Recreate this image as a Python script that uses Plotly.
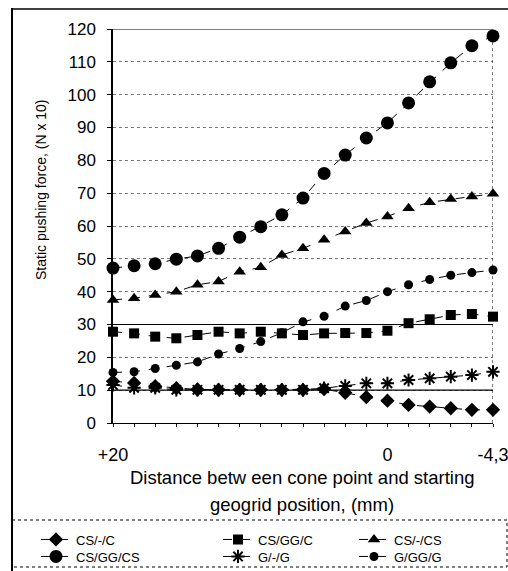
import plotly.graph_objects as go

# x positions (index along the category axis) and tick labels
x_index = list(range(19))
tick_vals = [0, 13, 18]
tick_text = ["+20", "0", "-4,3"]

cs_c = [12.7, 12.2, 11.2, 10.6, 10.2, 10.1, 10.1, 10.1, 10.1, 10.1, 10.3, 9.2, 7.9, 6.8, 5.5, 5.0, 4.5, 4.0, 4.0]
cs_gg_c = [27.8, 27.3, 26.3, 25.8, 26.8, 27.8, 27.3, 27.8, 27.3, 26.8, 27.3, 27.4, 27.4, 28.1, 30.4, 31.6, 32.9, 33.2, 32.4]
cs_cs = [37.5, 38.0, 39.0, 40.0, 42.1, 43.1, 46.1, 47.4, 51.2, 53.2, 55.8, 58.3, 60.9, 62.9, 65.4, 67.2, 68.2, 69.0, 69.8]
cs_gg_cs = [47.2, 47.9, 48.5, 49.9, 50.9, 53.2, 56.6, 59.8, 63.4, 68.5, 76.0, 81.6, 86.8, 91.4, 97.5, 103.9, 109.7, 114.9, 117.9]
g_g = [11.6, 10.7, 10.7, 10.1, 10.1, 10.1, 10.1, 10.1, 10.1, 10.1, 10.6, 11.3, 12.1, 12.1, 13.1, 13.6, 14.1, 14.6, 15.6]
g_gg_g = [15.4, 15.6, 16.6, 17.6, 18.6, 21.0, 22.7, 24.8, 27.5, 30.8, 32.5, 35.6, 37.3, 40.0, 42.1, 43.7, 45.0, 45.8, 46.6]

series_names = ["CS/-/C", "CS/GG/C", "CS/-/CS", "CS/GG/CS", "G/-/G", "G/GG/G"]
series_values = [cs_c, cs_gg_c, cs_cs, cs_gg_cs, g_g, g_gg_g]
symbols = ["diamond", "square", "triangle-up", "circle", "asterisk-open", "circle"]
sizes = [11, 10, 11, 13, 11, 9]

L, R, T, B = 113, 493, 29, 423
W, H = R - L, B - T


def px(X):
    return (X - L) / W


def py(Y):
    return (B - Y) / H


fig = go.Figure()
legend_cfg = {}
col_x = [36, 218, 354]
row_y = [539.5, 556.5]
for i, (name, vals, sym, size) in enumerate(zip(series_names, series_values, symbols, sizes)):
    key = "legend" if i == 0 else f"legend{i + 1}"
    fig.add_trace(go.Scatter(
        x=x_index, y=vals, name=name, mode="lines+markers",
        line=dict(color="black", width=1, dash="dash"),
        marker=dict(symbol=sym, size=size, color="black",
                    line=dict(color="black", width=2 if "asterisk" in sym else 0)),
        cliponaxis=False, legend=key,
    ))
    legend_cfg[key] = dict(
        x=px(col_x[i % 3]), y=py(row_y[i // 3]), xanchor="left", yanchor="middle",
        font=dict(size=13, color="black"), bgcolor="rgba(0,0,0,0)",
        itemwidth=30, borderwidth=0,
    )

shapes = []
for v in [10, 30, 120]:
    shapes.append(dict(type="line", xref="x", yref="y", x0=0, x1=18, y0=v, y1=v,
                       line=dict(color="black", width=1.2)))
shapes.append(dict(type="line", xref="x", yref="y", x0=18, x1=18, y0=0, y1=120,
                   line=dict(color="black", width=1, dash="dot")))
shapes.append(dict(type="line", xref="paper", yref="paper", x0=px(12), x1=px(12), y0=py(8), y1=py(571),
                   line=dict(color="black", width=2)))
shapes.append(dict(type="line", xref="paper", yref="paper", x0=px(12), x1=px(508), y0=py(9), y1=py(9),
                   line=dict(color="black", width=1.5)))
shapes.append(dict(type="rect", xref="paper", yref="paper", x0=px(12), x1=px(507), y0=py(520), y1=py(567),
                   line=dict(color="black", width=1, dash="dot")))

annotations = [
    dict(text="Distance betw een cone point and starting", xref="paper", yref="paper",
         x=px(302), y=py(478), showarrow=False, font=dict(size=18.5, color="black"),
         xanchor="center", yanchor="middle"),
    dict(text="geogrid position, (mm)", xref="paper", yref="paper",
         x=px(302), y=py(504), showarrow=False, font=dict(size=18.5, color="black"),
         xanchor="center", yanchor="middle"),
    dict(text="Static pushing force, (N x 10)", xref="paper", yref="paper",
         x=px(41), y=py(190), showarrow=False, textangle=-90, font=dict(size=14, color="black"),
         xanchor="center", yanchor="middle"),
]

fig.update_layout(
    width=508, height=571,
    margin=dict(l=L, r=508 - R, t=T, b=571 - B, autoexpand=False),
    paper_bgcolor="white", plot_bgcolor="white",
    font=dict(family="Liberation Sans, Arial, sans-serif", size=14, color="black"),
    showlegend=True,
    xaxis=dict(range=[0, 18], tickvals=x_index,
               ticktext=[tick_text[tick_vals.index(i)] if i in tick_vals else "" for i in x_index],
               showgrid=False, zeroline=False, showline=True, linecolor="black", linewidth=1.2,
               ticks="outside", ticklen=3, tickcolor="black", ticklabelstandoff=12,
               tickfont=dict(size=18), automargin=False, ticklabeloverflow="allow"),
    yaxis=dict(range=[0, 120], dtick=10, showgrid=True, gridcolor="#777", griddash="dot", gridwidth=1,
               zeroline=False, showline=True, linecolor="black", linewidth=1.5,
               ticks="outside", ticklen=4, tickcolor="black", ticklabelstandoff=8,
               tickfont=dict(size=17), automargin=False),
    shapes=shapes,
    annotations=annotations,
    **legend_cfg,
)

fig.write_html("out.html", config={"displayModeBar": False},
               post_script="document.body.style.margin='0px';document.body.style.overflow='hidden';")
